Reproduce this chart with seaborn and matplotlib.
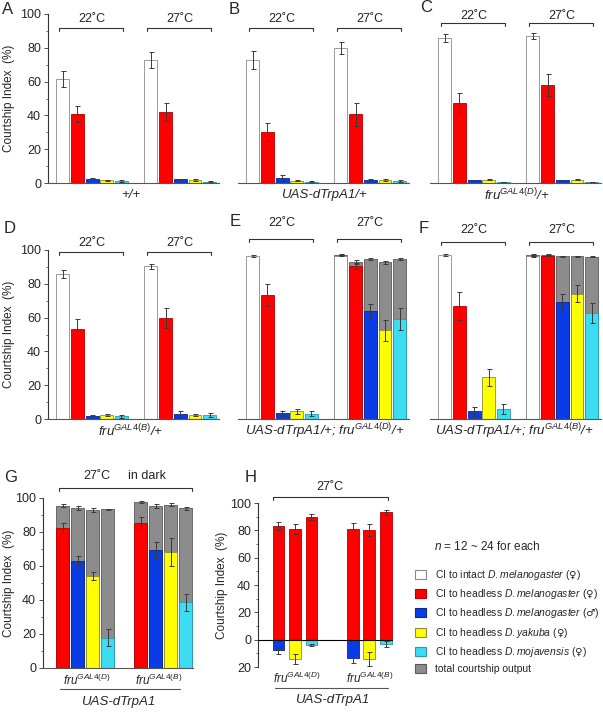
import matplotlib
matplotlib.use('Agg')
import pandas as pd
import matplotlib.pyplot as plt
import matplotlib.transforms as mtransforms
from matplotlib.colors import to_hex
from matplotlib.patches import Patch
from matplotlib.ticker import MultipleLocator, FuncFormatter
import seaborn as sns

sns.set_style('ticks')
plt.rcParams['font.family'] = ['Liberation Sans', 'DejaVu Sans']
plt.rcParams['mathtext.fontset'] = 'custom'
plt.rcParams['mathtext.rm'] = 'Liberation Sans'
plt.rcParams['mathtext.it'] = 'Liberation Sans:italic'
plt.rcParams['mathtext.sf'] = 'DejaVu Sans'
plt.rcParams['mathtext.default'] = 'it'

# ---------------- data ----------------
series = ['intact_mel_f', 'headless_mel_f', 'headless_mel_m', 'headless_yak_f', 'headless_moj_f']
legend_labels = [r'CI to intact $D.melanogaster$ ($\mathsf{♀}$)',
                 r'CI to headless $D.melanogaster$ ($\mathsf{♀}$)',
                 r'CI to headless $D.melanogaster$ ($\mathsf{♂}$)',
                 r'CI to headless $D.yakuba$ ($\mathsf{♀}$)',
                 r'CI to headless $D.mojavensis$ ($\mathsf{♀}$)',
                 'total courtship output']
colors = ['#FFFFFF', '#FF0000', '#0A3CE6', '#FFFF00', '#3CDCF2', '#8C8C8C']
edge_colors = ['#8A8A8A', '#B40000', '#0A2890', '#8C8C3C', '#2A9AAA', '#5A5A5A']

pos_22 = [0, 1, 2, 3, 4]
pos_27 = [6, 7, 8, 9, 10]

# A  +/+
a_22 = [61.5, 40.8, 2.5, 1.5, 1.3]
a_22_err = [4.5, 5.0, 0.4, 0.4, 0.5]
a_27 = [72.8, 42.0, 2.2, 1.8, 0.8]
a_27_err = [4.5, 5.2, 0.4, 0.4, 0.2]
# B  UAS-dTrpA1/+
b_22 = [72.8, 30.2, 3.0, 1.3, 0.6]
b_22_err = [5.2, 5.2, 1.6, 0.4, 0.3]
b_27 = [79.8, 40.8, 1.8, 1.8, 1.3]
b_27_err = [3.6, 6.8, 0.4, 0.4, 0.6]
# C  fruGAL4(D)/+
c_22 = [85.8, 47.3, 1.5, 2.0, 0.5]
c_22_err = [2.2, 5.9, 0.3, 0.3, 0.2]
c_27 = [87.0, 58.0, 1.5, 1.8, 0.5]
c_27_err = [1.6, 6.5, 0.3, 0.3, 0.2]
# D  fruGAL4(B)/+
d_22 = [85.8, 53.4, 1.8, 2.5, 1.5]
d_22_err = [2.4, 5.9, 0.5, 0.5, 1.0]
d_27 = [90.3, 59.8, 3.0, 2.2, 2.5]
d_27_err = [1.6, 6.0, 1.6, 0.5, 1.2]
# E  UAS-dTrpA1/+; fruGAL4(D)/+
e_22 = [96.6, 73.5, 3.5, 4.5, 3.0]
e_22_err = [0.5, 6.5, 1.5, 1.5, 1.5]
e_27 = [96.6, 90.7, 63.7, 52.4, 59.2]
e_27_err = [0.4, 1.8, 4.5, 6.2, 6.4]
e_27_total = [97.3, 93.0, 94.7, 92.7, 94.7]
e_27_total_err = [0.5, 1.2, 0.6, 0.8, 0.6]
# F  UAS-dTrpA1/+; fruGAL4(B)/+
f_22 = [97.0, 67.0, 4.5, 24.6, 5.9]
f_22_err = [0.4, 8.2, 2.5, 5.0, 3.0]
f_27 = [96.5, 96.6, 69.0, 74.0, 62.7]
f_27_err = [0.4, 0.4, 5.0, 5.0, 6.0]
f_27_total = [97.2, 97.3, 96.2, 96.2, 96.0]
f_27_total_err = [0.5, 0.4, 0.5, 0.5, 0.4]

# G  27C in dark
g_pos = [0, 1, 2, 3, 5.2, 6.2, 7.2, 8.2]
g_series = ['headless_mel_f', 'headless_mel_m', 'headless_yak_f', 'headless_moj_f'] * 2
g_vals = [82.3, 63.1, 54.1, 17.9, 85.1, 69.4, 68.2, 38.6]
g_err = [3.0, 2.9, 2.5, 5.2, 3.5, 4.9, 8.0, 4.9]
g_total = [95.5, 94.0, 92.8, 93.3, 97.5, 95.3, 96.1, 94.0]
g_total_err = [0.9, 1.2, 1.3, 0.5, 0.5, 1.0, 1.0, 1.0]

# H  27C, choice (positive: female mel, negative: other target)
h_pos = [0, 1, 2, 4.5, 5.5, 6.5]
h_red = [83.4, 80.8, 89.6, 80.8, 80.3, 93.2]
h_red_err = [3.0, 3.6, 2.0, 4.5, 4.5, 2.0]
h_neg_series = ['headless_mel_m', 'headless_yak_f', 'headless_moj_f'] * 2
h_neg = [-7.8, -14.1, -4.1, -13.4, -14.1, -3.2]
h_neg_err = [2.4, 3.6, 0.8, 3.9, 4.9, 2.0]

palette = dict(zip(series + ['total'], colors))
edges = dict(zip(series + ['total'], edge_colors))

# ---------------- figure ----------------
W, H = 603, 712
fig = plt.figure(figsize=(W / 100, H / 100), dpi=100)


def fy(y_px):
    return 1 - y_px / H


def add_axes(left, top, bottom, width):
    return fig.add_axes([left / W, fy(bottom), width / W, (bottom - top) / H])


def draw_bars(ax, xs, ys, errs, names, width):
    n0 = len(ax.patches)
    df = pd.DataFrame({'x': xs, 'y': ys, 'series': names})
    order = [s for s in palette if s in set(names)]
    sns.barplot(data=df, x='x', y='y', hue='series', hue_order=order, palette=palette,
                native_scale=True, dodge=False, errorbar=None, width=width,
                saturation=1, linewidth=0.6, legend=False, ax=ax)
    lookup = {to_hex(c): s for s, c in palette.items()}
    for p in ax.patches[n0:]:
        s = lookup.get(to_hex(p.get_facecolor()), 'total')
        p.set_edgecolor(edges[s])
    ax.errorbar(xs, ys, yerr=errs, fmt='none', ecolor='#3a3a3a', elinewidth=0.7,
                capsize=1.8, capthick=0.7, zorder=5)


def bracket(ax, x0, x1, y_px, labels, label_y_px):
    tr = mtransforms.blended_transform_factory(ax.transData, fig.transFigure)
    ax.plot([x0, x0, x1, x1], [fy(y_px + 3), fy(y_px), fy(y_px), fy(y_px + 3)],
            transform=tr, color='#333333', lw=0.8, clip_on=False)
    for lx, txt in labels:
        ax.text(lx, fy(label_y_px), txt, transform=tr, ha='center', va='center',
                fontsize=9, color='#222222')


def style_y(ax, ylabel_x_px, left, width):
    ax.yaxis.set_major_locator(MultipleLocator(20))
    ax.yaxis.set_minor_locator(MultipleLocator(10))
    ax.tick_params(axis='y', which='major', direction='out', length=3, width=0.6,
                   labelsize=9, pad=2, color='#333333')
    ax.tick_params(axis='y', which='minor', direction='out', length=1.8, width=0.5,
                   color='#333333')
    ax.set_ylabel('Courtship Index  (%)', fontsize=8.5)
    ax.yaxis.set_label_coords((ylabel_x_px - left) / width, 0.5)
    ax.spines['left'].set_color('#333333')
    ax.spines['left'].set_linewidth(0.8)


# panels A-F
panels = [
    ('A', 48, 14, 183, a_22, a_22_err, a_27, a_27_err, None, None, True,
     (8, 9), 28, 19, '+/+', (131, 195)),
    ('B', 238, 14, 183, b_22, b_22_err, b_27, b_27_err, None, None, False,
     (234, 9), 28, 19, 'UAS-dTrpA1/+', (324, 195)),
    ('C', 430, 14, 183, c_22, c_22_err, c_27, c_27_err, None, None, False,
     (426, 8), 23, 16, 'fru$^{GAL4(D)}$/+', (517, 195)),
    ('D', 48, 250, 419, d_22, d_22_err, d_27, d_27_err, None, None, True,
     (10, 229), 252, 243, 'fru$^{GAL4(B)}$/+', (130, 431)),
    ('E', 238, 250, 419, e_22, e_22_err, e_27, e_27_err, e_27_total, e_27_total_err, False,
     (235, 222), 239, 223, 'UAS-dTrpA1/+; fru$^{GAL4(D)}$/+', (325, 431)),
    ('F', 430, 250, 419, f_22, f_22_err, f_27, f_27_err, f_27_total, f_27_total_err, False,
     (424, 229), 242, 230, 'UAS-dTrpA1/+; fru$^{GAL4(B)}$/+', (514, 431)),
]

ax_w = 170.5
bar_w = 0.88
for (letter, left, top, bottom, v22, e22, v27, e27, tot, tot_err, yaxis,
     lpos, br_y, lab_y, xlab, xlab_pos) in panels:
    ax = add_axes(left, top, bottom, ax_w)
    if tot is not None:
        draw_bars(ax, pos_27, tot, tot_err, ['total'] * 5, bar_w)
    draw_bars(ax, pos_22 + pos_27, v22 + v27, e22 + e27, series * 2, bar_w)
    bracket(ax, pos_22[0] - 0.25, pos_22[-1] + 0.1, br_y,
            [((pos_22[0] + pos_22[-1]) / 2, '22˚C')], lab_y)
    bracket(ax, pos_27[0] - 0.25, pos_27[-1] + 0.1, br_y,
            [((pos_27[0] + pos_27[-1]) / 2, '27˚C')], lab_y)
    ax.set_xlim(-1.0, 10.6)
    ax.set_ylim(0, 100)
    ax.set_xticks([])
    ax.set_xlabel('')
    for s in ['top', 'right']:
        ax.spines[s].set_visible(False)
    ax.spines['bottom'].set_color('#555555')
    ax.spines['bottom'].set_linewidth(0.8)
    if yaxis:
        style_y(ax, 15, left, ax_w)
    else:
        ax.spines['left'].set_visible(False)
        ax.set_yticks([])
        ax.set_ylabel('')
    fig.text(lpos[0] / W, fy(lpos[1]), letter, fontsize=12, ha='center', va='center')
    fig.text(xlab_pos[0] / W, fy(xlab_pos[1]), xlab, fontsize=9.5, style='italic',
             ha='center', va='center')

# panel G
axg = add_axes(43, 498, 668, 150)
draw_bars(axg, g_pos, g_total, g_total_err, ['total'] * 8, 0.88)
draw_bars(axg, g_pos, g_vals, g_err, g_series, 0.88)
bracket(axg, -0.23, 8.63, 488, [(2.3, '27˚C'), (5.6, 'in dark')], 476)
axg.set_xlim(-1.3, 8.7)
axg.set_ylim(0, 100)
axg.set_xticks([])
axg.set_xlabel('')
for s in ['top', 'right']:
    axg.spines[s].set_visible(False)
axg.spines['bottom'].set_color('#555555')
axg.spines['bottom'].set_linewidth(0.8)
style_y(axg, 15, 43, 150)
fig.text(11 / W, fy(477), 'G', fontsize=12, ha='center', va='center')
trg = mtransforms.blended_transform_factory(axg.transData, fig.transFigure)
axg.text(1.6, fy(680), 'fru$^{GAL4(D)}$', transform=trg, fontsize=8.5, style='italic',
         ha='center', va='center')
axg.text(6.4, fy(680), 'fru$^{GAL4(B)}$', transform=trg, fontsize=8.5, style='italic',
         ha='center', va='center')
axg.plot([-0.17, 7.83], [fy(689), fy(689)], transform=trg, color='#555555', lw=0.8,
         clip_on=False)
axg.text(3.7, fy(702), 'UAS-dTrpA1', transform=trg, fontsize=9.5, style='italic',
         ha='center', va='center')

# panel H
axh = add_axes(258, 503, 667, 135)
draw_bars(axh, h_pos, h_red, h_red_err, ['headless_mel_f'] * 6, 0.72)
draw_bars(axh, h_pos, h_neg, h_neg_err, h_neg_series, 0.72)
axh.axhline(0, color='black', lw=0.8, zorder=6)
bracket(axh, -0.33, 6.64, 497, [(3.12, '27˚C')], 487)
axh.set_xlim(-1.24, 6.94)
axh.set_ylim(-20, 100)
axh.set_xticks([])
axh.set_xlabel('')
for s in ['top', 'right', 'bottom']:
    axh.spines[s].set_visible(False)
style_y(axh, 228, 258, 135)
axh.yaxis.set_major_formatter(FuncFormatter(lambda v, p: f'{abs(v):.0f}'))
fig.text(251 / W, fy(477), 'H', fontsize=12, ha='center', va='center')
trh = mtransforms.blended_transform_factory(axh.transData, fig.transFigure)
axh.text(1.12, fy(678), 'fru$^{GAL4(D)}$', transform=trh, fontsize=8.5, style='italic',
         ha='center', va='center')
axh.text(5.55, fy(678), 'fru$^{GAL4(B)}$', transform=trh, fontsize=8.5, style='italic',
         ha='center', va='center')
axh.plot([-0.2, 6.64], [fy(688), fy(688)], transform=trh, color='#555555', lw=0.8,
         clip_on=False)
axh.text(3.24, fy(700), 'UAS-dTrpA1', transform=trh, fontsize=9.5, style='italic',
         ha='center', va='center')

# legend
fig.text(434 / W, fy(547), '$n$ = 12 ~ 24 for each', fontsize=8.5, ha='left', va='center')
handles = [Patch(facecolor=c, edgecolor=e, linewidth=0.8)
           for c, e in zip(colors, edge_colors)]
fig.legend(handles, legend_labels, loc='upper left', bbox_to_anchor=(415 / W, fy(568)),
           frameon=False, fontsize=7.5, handlelength=1.1, handleheight=0.95,
           handletextpad=0.8, labelspacing=0.5, borderpad=0, borderaxespad=0)

fig.savefig('out.png', dpi=100)
